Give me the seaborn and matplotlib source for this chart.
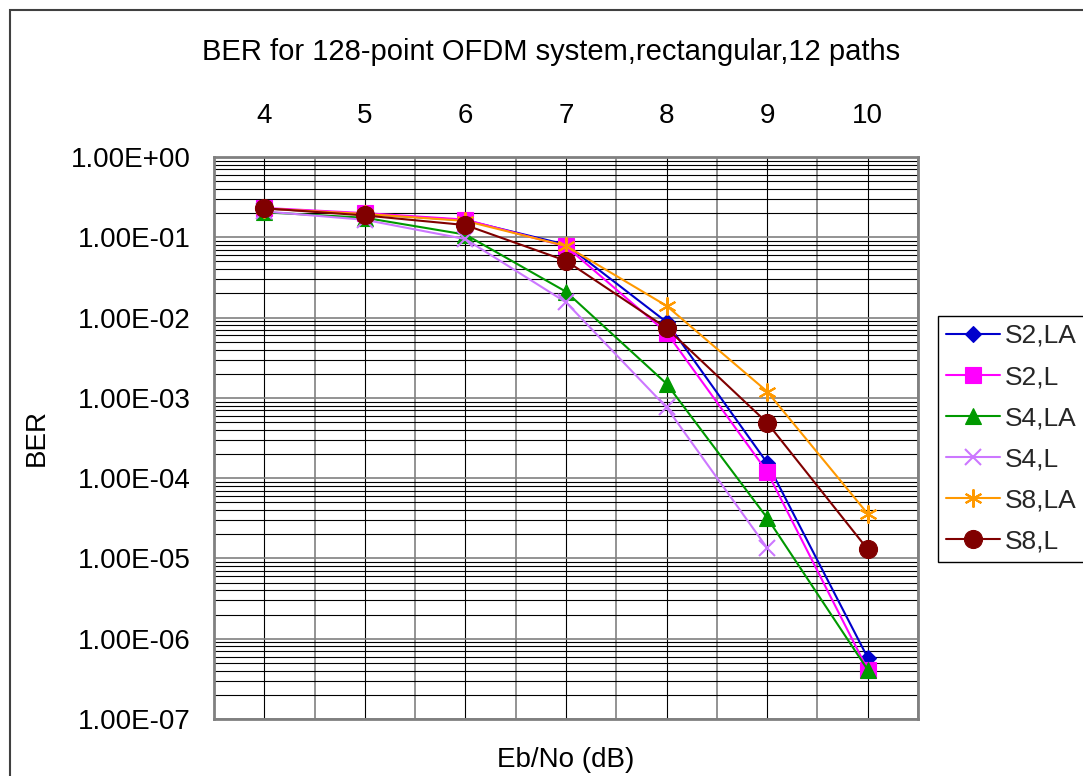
import numpy as np
import pandas as pd
import matplotlib
matplotlib.use("Agg")
import matplotlib.pyplot as plt
import seaborn as sns
from matplotlib.ticker import FixedLocator, LogLocator, FuncFormatter, NullFormatter
from matplotlib.patches import Rectangle

# Eb/No points (dB) and measured bit error rates per scheme
ebno = [4, 5, 6, 7, 8, 9, 10]
series_names = ["S2,LA", "S2,L", "S4,LA", "S4,L", "S8,LA", "S8,L"]
ber_s2_la = [0.228, 0.196, 0.163, 0.081, 0.0088, 1.55e-4, 5.8e-7]
ber_s2_l = [0.232, 0.200, 0.166, 0.077, 0.0065, 1.2e-4, 4.1e-7]
ber_s4_la = [0.205, 0.175, 0.108, 0.021, 0.0015, 3.2e-5, 4.1e-7]
ber_s4_l = [0.210, 0.165, 0.095, 0.0155, 7.6e-4, 1.35e-5, np.nan]
ber_s8_la = [0.228, 0.195, 0.160, 0.078, 0.0140, 1.2e-3, 3.6e-5]
ber_s8_l = [0.230, 0.187, 0.142, 0.051, 0.0074, 4.9e-4, 1.3e-5]
x_tick_labels = ["4", "5", "6", "7", "8", "9", "10"]

all_ber = [ber_s2_la, ber_s2_l, ber_s4_la, ber_s4_l, ber_s8_la, ber_s8_l]

colors = {
    "S2,LA": "#0000CC",
    "S2,L": "#FF00FF",
    "S4,LA": "#009900",
    "S4,L": "#CC77FF",
    "S8,LA": "#FF9900",
    "S8,L": "#800000",
}
markers = {
    "S2,LA": "D",
    "S2,L": "s",
    "S4,LA": "^",
    "S4,L": "x",
    "S8,LA": (6, 2, 0),
    "S8,L": "o",
}
marker_sizes = {"S2,LA": 8, "S2,L": 11, "S4,LA": 11.5, "S4,L": 11, "S8,LA": 13, "S8,L": 13}

df = pd.DataFrame({
    "ebno": np.tile(ebno, len(series_names)),
    "ber": np.concatenate(all_ber),
    "series": np.repeat(series_names, len(ebno)),
}).dropna()

sns.set_theme(style="white")
plt.rcParams["font.family"] = ["Liberation Sans", "DejaVu Sans"]

W, H = 1083, 776
fig = plt.figure(figsize=(W / 100, H / 100), dpi=100)
fig.patch.set_facecolor("white")
ax = fig.add_axes([214 / W, 1 - 719 / H, (918 - 214) / W, (719 - 157) / H])

sns.lineplot(
    data=df, x="ebno", y="ber", hue="series",
    hue_order=series_names, palette=colors, marker="o",
    estimator=None, sort=False, legend=False, linewidth=1.5, ax=ax,
)

# per-series marker shapes (filled and line-art mixed)
for line, name in zip(ax.lines, series_names):
    c = colors[name]
    line.set_color(c)
    line.set_marker(markers[name])
    line.set_markerfacecolor(c)
    line.set_markeredgecolor(c)
    line.set_markersize(marker_sizes[name])
    line.set_markeredgewidth(1.5 if name in ("S4,L", "S8,LA") else 0.8)
    line.set_label(name)

# log axis with decade labels and minor lines at 2..9
ax.set_yscale("log")
ax.set_ylim(1e-7, 1)
ax.yaxis.set_major_locator(LogLocator(base=10, numticks=10))
ax.yaxis.set_minor_locator(LogLocator(base=10, subs=np.arange(2, 10), numticks=100))
ax.yaxis.set_major_formatter(FuncFormatter(lambda v, p: f"{v:.2E}"))
ax.yaxis.set_minor_formatter(NullFormatter())

ax.set_xlim(3.5, 10.5)
ax.xaxis.set_major_locator(FixedLocator(ebno))
ax.set_xticklabels(x_tick_labels)
ax.xaxis.set_minor_locator(FixedLocator(np.arange(3.5, 11, 1.0)))
ax.xaxis.set_minor_formatter(NullFormatter())
ax.xaxis.tick_top()

ax.tick_params(axis="x", which="both", length=0, pad=20, labelsize=20, colors="black")
ax.tick_params(axis="y", which="both", length=0, pad=17, labelsize=20, colors="black")

ax.set_axisbelow(True)
ax.grid(which="major", axis="y", color="#808080", linewidth=1.2)
ax.grid(which="minor", axis="y", color="black", linewidth=0.8)
ax.grid(which="major", axis="x", color="black", linewidth=0.8)
ax.grid(which="minor", axis="x", color="#808080", linewidth=1.2)

for sp in ax.spines.values():
    sp.set_visible(True)
    sp.set_color("#808080")
    sp.set_linewidth(2)

ax.xaxis.set_label_position("bottom")
ax.set_xlabel("Eb/No (dB)", fontsize=20, labelpad=20, color="black")
ax.set_ylabel("BER", fontsize=20, labelpad=15, color="black")

fig.text(551 / W, 1 - 52 / H, "BER for 128-point OFDM system,rectangular,12 paths",
         ha="center", va="center", fontsize=21, color="black")

leg = fig.legend(
    handles=list(ax.lines), labels=series_names,
    loc="upper left", bbox_to_anchor=(938 / W, 1 - 316 / H),
    frameon=True, fancybox=False, edgecolor="black", framealpha=1,
    fontsize=19, handlelength=2.05, labelspacing=0.65, borderpad=0.3,
    handletextpad=0.2, borderaxespad=0,
)
leg.get_frame().set_linewidth(1.0)

# chart area border
fig.add_artist(Rectangle((10 / W, -0.5), 2, 1 - 10 / H + 0.5, transform=fig.transFigure,
                         fill=False, edgecolor="#404040", linewidth=1.5))

fig.savefig("out.png", dpi=100)
